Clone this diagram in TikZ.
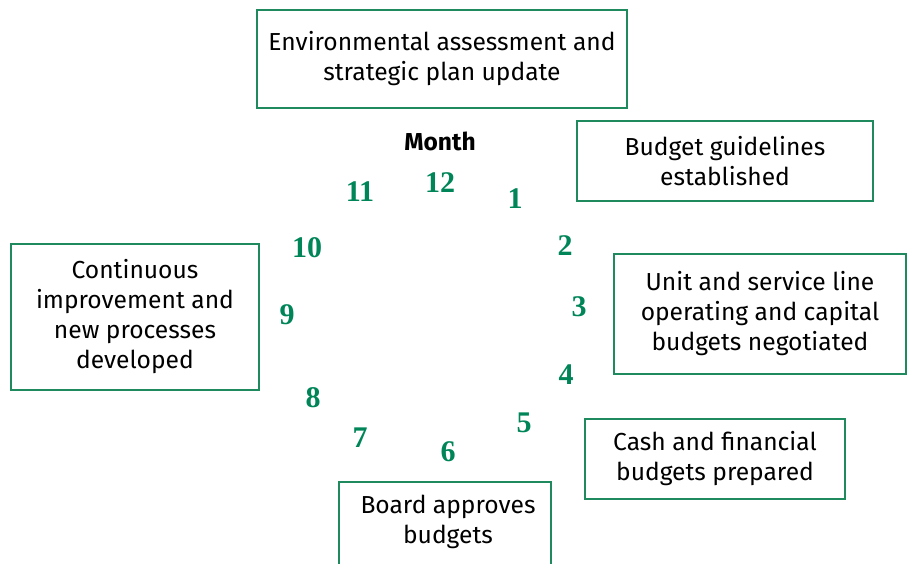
\documentclass[tikz,border=0pt]{standalone}
\usepackage{fontspec}
\setmainfont{Fira Sans}
\newfontfamily\numfont{Liberation Serif}
\definecolor{boxgreen}{RGB}{30,138,94}
\definecolor{numgreen}{RGB}{0,133,88}
\begin{document}
\begin{tikzpicture}[x=1pt,y=-1pt,
  stagebox/.style={draw=boxgreen, line width=2pt, fill=white, align=center,
    font=\fontsize{24.6}{30}\selectfont, inner sep=0pt},
  txt/.style={align=center, font=\fontsize{24.6}{30}\selectfont, inner sep=0pt},
  num/.style={text=numgreen, font=\numfont\bfseries\fontsize{30}{30}\selectfont, inner sep=0pt}]
\useasboundingbox (0,0) rectangle (908,564);
% boxes
\node[stagebox, minimum width=370, minimum height=98] (env) at (442,59)
  {Environmental assessment and\\strategic plan update};
\node[stagebox, minimum width=296, minimum height=80] (guide) at (725,161)
  {Budget guidelines\\established};
\node[stagebox, minimum width=292, minimum height=120] (unit) at (760,314)
  {Unit and service line\\operating and capital\\budgets negotiated};
\node[stagebox, minimum width=248, minimum height=145] (cont) at (135,317)
  {Continuous\\improvement and\\new processes\\developed};
\node[stagebox, minimum width=260, minimum height=80] (cash) at (715,459)
  {Cash and financial\\budgets prepared};
\node[stagebox, minimum width=212, minimum height=96] (board) at (445,530) {};
\node[txt] (boardtxt) at (448,522) {Board approves\\budgets};
% month label
\node[inner sep=0pt, font=\bfseries\fontsize{24.5}{24.5}\selectfont] (month) at (440,141) {Month};
% month numbers
\node[num] (m12) at (440,183) {12};
\node[num] (m11) at (360,192) {11};
\node[num] (m1) at (515,199) {1};
\node[num] (m2) at (565,246) {2};
\node[num] (m3) at (579,307) {3};
\node[num] (m4) at (566,375) {4};
\node[num] (m5) at (524,423) {5};
\node[num] (m6) at (448,452) {6};
\node[num] (m7) at (360,438) {7};
\node[num] (m8) at (313,398) {8};
\node[num] (m9) at (287,315) {9};
\node[num] (m10) at (307,248) {10};
\end{tikzpicture}
\end{document}
